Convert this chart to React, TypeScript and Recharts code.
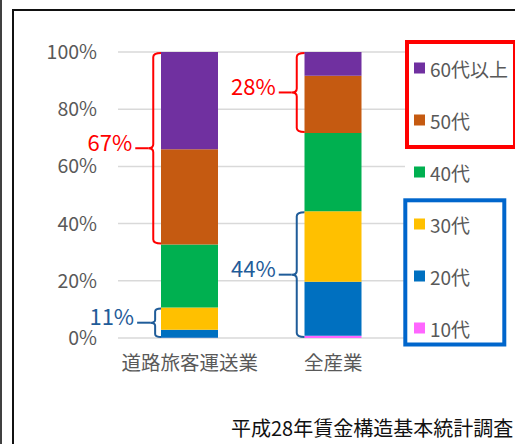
import { BarChart, Bar, XAxis, YAxis, CartesianGrid, ReferenceArea } from 'recharts';

// Categories (x axis)
const categories = ['道路旅客運送業', '全産業'];

// Age groups, bottom of the stack first
const ageGroups = ['10代', '20代', '30代', '40代', '50代', '60代以上'];

// Share of workers (%) per category
const age10 = [0.1, 0.8];
const age20 = [2.8, 18.9];
const age30 = [7.8, 24.6];
const age40 = [22.0, 27.4];
const age50 = [33.3, 20.0];
const age60 = [34.0, 8.3];
const seriesValues = [age10, age20, age30, age40, age50, age60];

const yTicks = [0, 20, 40, 60, 80, 100];

// Brackets: which category, which age groups they span, and their label
const bracketCategory = [0, 0, 1, 1];
const bracketFrom = [4, 0, 4, 0];
const bracketTo = [5, 2, 5, 2];
const bracketLabels = ['67%', '11%', '28%', '44%'];

const sourceNote = '平成28年賃金構造基本統計調査';

const colors = ['#FF66FF', '#0070C0', '#FFC000', '#00B050', '#C55A11', '#7030A0'];
const RED = '#FF0000';
const BLUE = '#1F5C99';
const FONT = "'Noto Sans CJK JP', 'Noto Sans', sans-serif";
const BAR_SIZE = 57;

const data = categories.map((name, i) => {
  const row: Record<string, string | number> = { name };
  ageGroups.forEach((g, j) => {
    row[g] = seriesValues[j][i];
  });
  return row;
});

const sumRange = (cat: number, from: number, to: number) => {
  let s = 0;
  for (let j = from; j <= to; j++) s += seriesValues[j][cat];
  return s;
};
const cumBelow = (cat: number, idx: number) => sumRange(cat, 0, idx - 1);

// curly brace drawn left of the bar segment range
const renderBracket = (k: number) => (props: any) => {
  const { x, y, width, height } = props;
  const color = bracketFrom[k] >= 4 ? RED : BLUE;
  const barLeft = x + width / 2 - BAR_SIZE / 2;
  const depth = Math.min(8, height / 5);
  const r = depth / 2;
  const xv = barLeft - depth;
  const xt = xv - 5;
  const yTop = y + 1;
  const yBot = y + height - 1;
  const yMid = (yTop + yBot) / 2;
  const d = `M ${barLeft} ${yTop} Q ${xv} ${yTop} ${xv} ${yTop + r} L ${xv} ${yMid - r} Q ${xv} ${yMid} ${xt} ${yMid} Q ${xv} ${yMid} ${xv} ${yMid + r} L ${xv} ${yBot - r} Q ${xv} ${yBot} ${barLeft} ${yBot}`;
  const lineEnd = xt - 13;
  return (
    <g>
      <path d={d} fill="none" stroke={color} strokeWidth={2} />
      <line x1={xt} y1={yMid} x2={lineEnd} y2={yMid} stroke={color} strokeWidth={2} />
      <text x={lineEnd - 3} y={yMid + 2.5} textAnchor="end" fontSize={22} fill={color} fontFamily={FONT}>
        {bracketLabels[k]}
      </text>
    </g>
  );
};

function LegendOverlay() {
  const items = [...ageGroups].reverse();
  return (
    <svg width={515} height={444} style={{ position: 'absolute', left: 0, top: 0, pointerEvents: 'none' }}>
      {/* outer frame */}
      <line x1={1} y1={0} x2={1} y2={444} stroke="#404040" strokeWidth={2} />
      <line x1={13} y1={9} x2={13} y2={444} stroke="#111" strokeWidth={2} />
      <line x1={12} y1={10} x2={515} y2={10} stroke="#111" strokeWidth={2} />

      {/* legend boxes */}
      <rect x={407} y={42} width={108} height={105} fill="none" stroke={RED} strokeWidth={4} />
      <rect x={405.3} y={200.3} width={99} height={144.2} fill="none" stroke="#0066CC" strokeWidth={4} />

      {items.map((g, i) => {
        const cy = 68 + 52 * i;
        const color = colors[ageGroups.indexOf(g)];
        return (
          <g key={g}>
            <rect x={414} y={cy - 5.5} width={11} height={11} fill={color} />
            <text x={430} y={cy} dominantBaseline="central" fontSize={19} fill="#595959" fontFamily={FONT}>
              {g}
            </text>
          </g>
        );
      })}

      <text x={231} y={436} fontSize={20} fill="#111" fontFamily={FONT}>
        {sourceNote}
      </text>
    </svg>
  );
}

export default function App() {
  return (
    <div style={{ position: 'absolute', left: 0, top: 0, width: 515, height: 444, background: '#fff', overflow: 'hidden' }}>
      <BarChart
        width={515}
        height={444}
        data={data}
        margin={{ top: 52, right: 110, bottom: 76, left: 0 }}
      >
        <CartesianGrid vertical={false} stroke="#D9D9D9" strokeWidth={1.5} />
        <XAxis
          dataKey="name"
          height={30}
          axisLine={false}
          tickLine={false}
          tickSize={0}
          tickMargin={18}
          tick={{ fill: '#595959', fontSize: 19.5, fontFamily: FONT }}
        />
        <YAxis
          width={118}
          domain={[0, 100]}
          ticks={yTicks}
          tickFormatter={(v: number) => `${v}%`}
          axisLine={false}
          tickLine={false}
          tickSize={0}
          tickMargin={21}
          tick={{ fill: '#595959', fontSize: 19.5, fontFamily: FONT }}
        />
        {ageGroups.map((g, j) => (
          <Bar key={g} dataKey={g} stackId="age" fill={colors[j]} barSize={BAR_SIZE} isAnimationActive={false} />
        ))}
        {bracketLabels.map((label, k) => {
          const c = bracketCategory[k];
          const lo = cumBelow(c, bracketFrom[k]);
          const hi = lo + sumRange(c, bracketFrom[k], bracketTo[k]);
          return (
            <ReferenceArea
              key={label}
              x1={categories[c]}
              x2={categories[c]}
              y1={lo}
              y2={hi}
              ifOverflow="visible"
              shape={renderBracket(k)}
            />
          );
        })}
      </BarChart>
      <LegendOverlay />
    </div>
  );
}
